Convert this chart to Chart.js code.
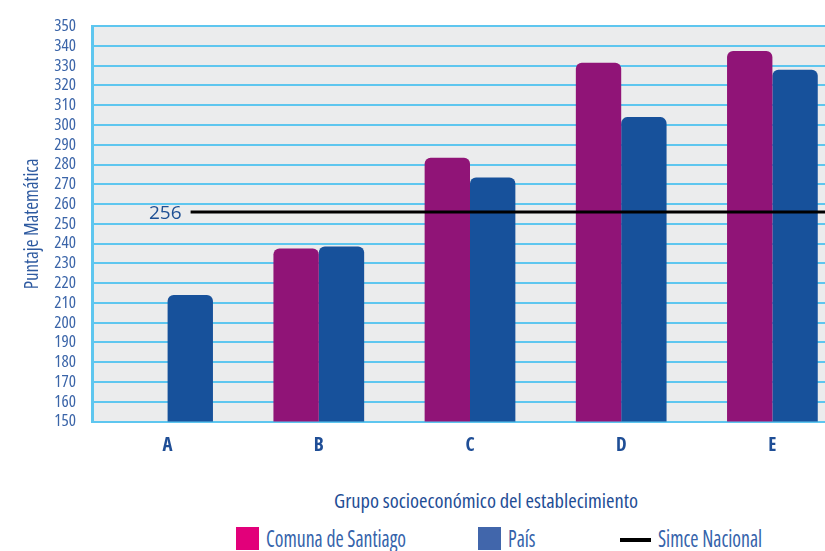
<!DOCTYPE html>
<html>
<head>
<meta charset="utf-8">
<script src="https://cdn.jsdelivr.net/npm/chart.js@4"></script>
<style>
  body { margin: 0; background: #fff; }
  #wrap { position: relative; width: 825px; height: 551px; overflow: hidden; }
  #chartBox { position: absolute; left: 0; top: 0; width: 860px; height: 470px; }
  .narrow { font-family: "Open Sans", sans-serif; font-stretch: condensed; color: #1f4e96; }
  #xTitle { position: absolute; top: 486px; left: 286px; width: 400px; text-align: center; font-size: 20.5px; line-height: 28px; white-space: nowrap; }
  .leg { position: absolute; top: 525px; font-size: 23px; line-height: 26px; white-space: nowrap; color: #3563ab; transform: scaleX(0.86); transform-origin: left center; }
  .sw { position: absolute; width: 23px; height: 23px; }
</style>
</head>
<body>
<div id="wrap">
  <div id="chartBox"><canvas id="simceChart"></canvas></div>
  <div id="xTitle" class="narrow">Grupo socioeconómico del establecimiento</div>
  <div class="sw" style="left:236px; top:527px; background:#e2007a;"></div>
  <div class="leg narrow" style="left:266px;">Comuna de Santiago</div>
  <div class="sw" style="left:478px; top:527px; background:#4166ab;"></div>
  <div class="leg narrow" style="left:508px;">País</div>
  <div class="sw" style="left:620px; top:538px; width:31px; height:4px; background:#000;"></div>
  <div class="leg narrow" style="left:658px;">Simce Nacional</div>
</div>
<script>
const grupos = ['A', 'B', 'C', 'D', 'E'];
const comunaSantiago = [null, 237.5, 283.5, 331.5, 337.5];
const pais = [214, 238.5, 273.5, 304, 328];
const simceNacional = 256;

const gridBlue = '#5ec6ef';
const family = '"Open Sans", sans-serif';

// grey fill behind the plot
const plotBackground = {
  id: 'plotBackground',
  beforeDraw(chart) {
    const { ctx, chartArea: a } = chart;
    ctx.save();
    ctx.fillStyle = '#ebeced';
    ctx.fillRect(a.left, a.top, a.right - a.left, a.bottom - a.top);
    ctx.restore();
  }
};

// national reference line with its value written at the left
const simceLine = {
  id: 'simceLine',
  afterDatasetsDraw(chart) {
    const { ctx, chartArea: a, scales } = chart;
    const y = scales.y.getPixelForValue(simceNacional);
    const x0 = scales.x.getPixelForValue(0) + 23;
    ctx.save();
    ctx.strokeStyle = '#000';
    ctx.lineWidth = 3;
    ctx.beginPath();
    ctx.moveTo(x0, y);
    ctx.lineTo(a.right, y);
    ctx.stroke();
    ctx.fillStyle = '#1e4f93';
    ctx.font = '19px ' + family;
    ctx.textAlign = 'right';
    ctx.textBaseline = 'middle';
    ctx.fillText(String(simceNacional), x0 - 9, y + 2);
    ctx.restore();
  }
};

new Chart(document.getElementById('simceChart'), {
  type: 'bar',
  data: {
    labels: grupos,
    datasets: [
      {
        label: 'Comuna de Santiago',
        data: comunaSantiago,
        backgroundColor: '#901477',
        borderRadius: 6,
        borderSkipped: 'bottom'
      },
      {
        label: 'País',
        data: pais,
        backgroundColor: '#17519b',
        borderRadius: 6,
        borderSkipped: 'bottom'
      }
    ]
  },
  options: {
    responsive: true,
    maintainAspectRatio: false,
    animation: false,
    layout: { padding: { top: 22, right: 12, left: 0, bottom: 0 } },
    datasets: { bar: { categoryPercentage: 0.6, barPercentage: 1.0 } },
    plugins: {
      legend: { display: false },
      tooltip: { enabled: false }
    },
    scales: {
      x: {
        grid: { display: false },
        border: { display: false },
        ticks: {
          color: '#1f4e96',
          font: { family, size: 19, weight: 'bold condensed' },
          padding: 5
        },
        afterFit(axis) { axis.height = 48.5; }
      },
      y: {
        min: 150,
        max: 350,
        grid: { color: gridBlue, lineWidth: 2, drawTicks: false },
        border: { display: true, color: gridBlue, width: 3 },
        ticks: {
          stepSize: 10,
          autoSkip: false,
          color: '#3a64a8',
          font: { family, size: 17, weight: 'condensed' },
          padding: 16
        },
        title: {
          display: true,
          text: 'Puntaje Matemática',
          color: '#2e5aa0',
          font: { family, size: 19, weight: 'condensed' },
          padding: { top: 21, bottom: 0 }
        },
        afterFit(axis) { axis.width = 92; }
      }
    }
  },
  plugins: [plotBackground, simceLine]
});
</script>
</body>
</html>
